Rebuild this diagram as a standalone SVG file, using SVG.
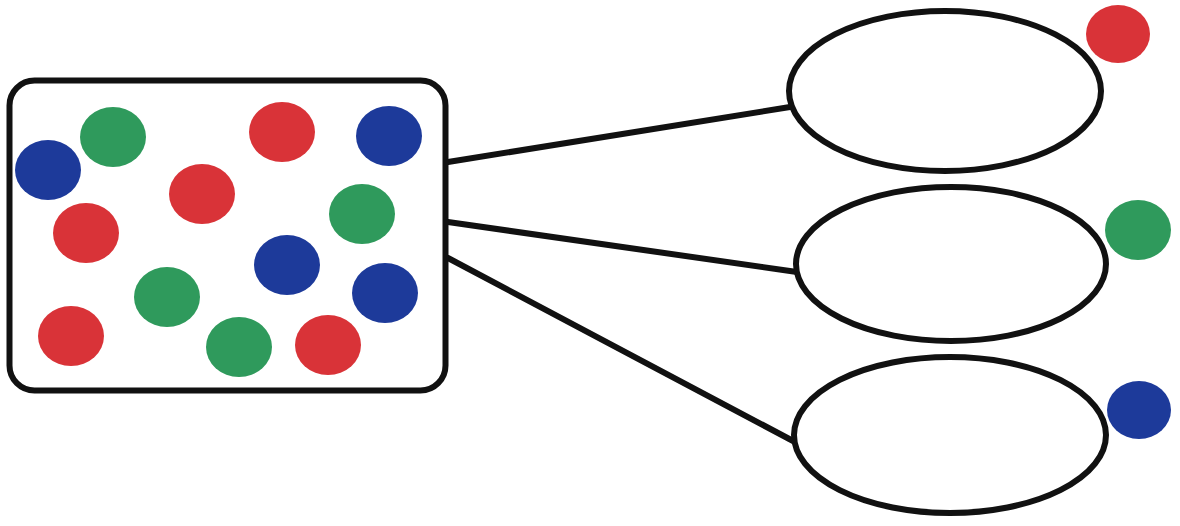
<svg xmlns="http://www.w3.org/2000/svg" width="1180" height="526" viewBox="0 0 1180 526">
<style>
.box{fill:#fff;stroke:#111;stroke-width:6}
.ell{fill:#fff;stroke:#111;stroke-width:6}
.edge{stroke:#111;stroke-width:6;fill:none;stroke-linecap:round}
.r{fill:#d93338}
.g{fill:#2f9a5c}
.b{fill:#1d3a9a}
</style>
<rect width="1180" height="526" fill="#fff"/>
<g id="connectors">
<line class="edge" x1="448" y1="162" x2="790" y2="107"/>
<line class="edge" x1="448" y1="222" x2="797" y2="272"/>
<line class="edge" x1="448" y1="258" x2="795" y2="442"/>
</g>
<g id="mixture">
<rect class="box" x="9.5" y="80.5" width="436" height="310" rx="25" ry="25"/>
<ellipse class="b" cx="48" cy="170" rx="33" ry="30"/>
<ellipse class="g" cx="113" cy="137" rx="33" ry="30"/>
<ellipse class="r" cx="282" cy="132" rx="33" ry="30"/>
<ellipse class="b" cx="389" cy="136" rx="33" ry="30"/>
<ellipse class="r" cx="202" cy="194" rx="33" ry="30"/>
<ellipse class="r" cx="86" cy="233" rx="33" ry="30"/>
<ellipse class="g" cx="362" cy="214" rx="33" ry="30"/>
<ellipse class="b" cx="287" cy="265" rx="33" ry="30"/>
<ellipse class="g" cx="167" cy="297" rx="33" ry="30"/>
<ellipse class="b" cx="385" cy="293" rx="33" ry="30"/>
<ellipse class="r" cx="71" cy="336" rx="33" ry="30"/>
<ellipse class="g" cx="239" cy="347" rx="33" ry="30"/>
<ellipse class="r" cx="328" cy="345" rx="33" ry="30"/>
</g>
<g id="red-group">
<ellipse class="ell" cx="945" cy="91" rx="156" ry="80"/>
<ellipse class="r" cx="1118" cy="34" rx="32" ry="29"/>
</g>
<g id="green-group">
<ellipse class="ell" cx="951" cy="264" rx="155" ry="77"/>
<ellipse class="g" cx="1138" cy="230" rx="33" ry="30"/>
</g>
<g id="blue-group">
<ellipse class="ell" cx="950" cy="435" rx="156" ry="78"/>
<ellipse class="b" cx="1139" cy="410" rx="32" ry="29"/>
</g>
</svg>
